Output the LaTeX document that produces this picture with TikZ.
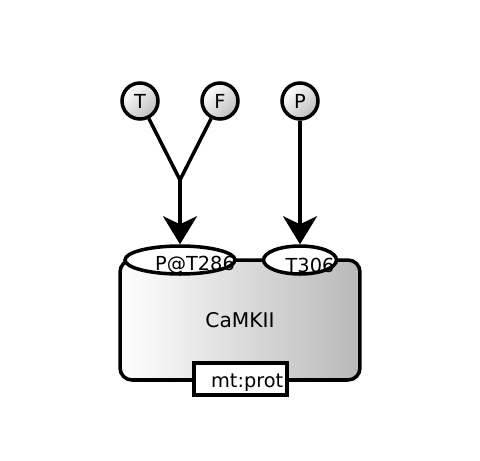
\documentclass[tikz,border=0pt]{standalone}
\usepackage{fontspec}
\setmainfont{DejaVu Sans}
\usetikzlibrary{arrows.meta,shapes.geometric}

\begin{document}
\begin{tikzpicture}[x=0.02cm, y=-0.02cm, font=\fontsize{11}{12}\selectfont,
    line width=2pt,
    stateVar/.style={draw, ellipse, fill=white, minimum width=#1, minimum height=0.56cm, inner sep=0pt},
    leafNode/.style={draw, circle, minimum size=0.72cm, inner sep=0pt, top color=white, bottom color=gray!50, shading angle=45},
    arcLine/.style={-{Stealth[length=0.56cm, width=0.68cm, inset=0.16cm]}}]

    \useasboundingbox (0,0) rectangle (480,460);

    % --- Macromolecule with state variables ---
    \node[draw, rounded corners=0.24cm, minimum width=4.8cm, minimum height=2.4cm,
          left color=white, right color=gray!55] (camk) at (240,320) {\fontsize{11.5}{12}\selectfont CaMKII};
    \node[stateVar=2.2cm] (pt286) at (180,260) {};
    \node at (195,265) {P@T286};
    \node[stateVar=1.46cm] (t306) at (300,260) {};
    \node at (310,265) {T306};

    % unit of information
    \node[draw, fill=white, minimum width=1.86cm, minimum height=0.64cm, inner sep=0pt] (unit) at (240.5,379) {};
    \node[anchor=south east, inner sep=0pt] at (285,393) {mt:prot};

    % --- Leaves ---
    \node[leafNode] (tl) at (140,101) {T};
    \node[leafNode] (fl) at (220,101) {F};
    \node[leafNode] (pl) at (300,101) {P};

    % --- Arcs ---
    \coordinate (join) at (180,180);
    \draw (tl) -- (join);
    \draw (fl) -- (join);
    \draw[arcLine] (join) -- (pt286.north);
    \draw[arcLine] (pl) -- (t306.north);

\end{tikzpicture}
\end{document}
